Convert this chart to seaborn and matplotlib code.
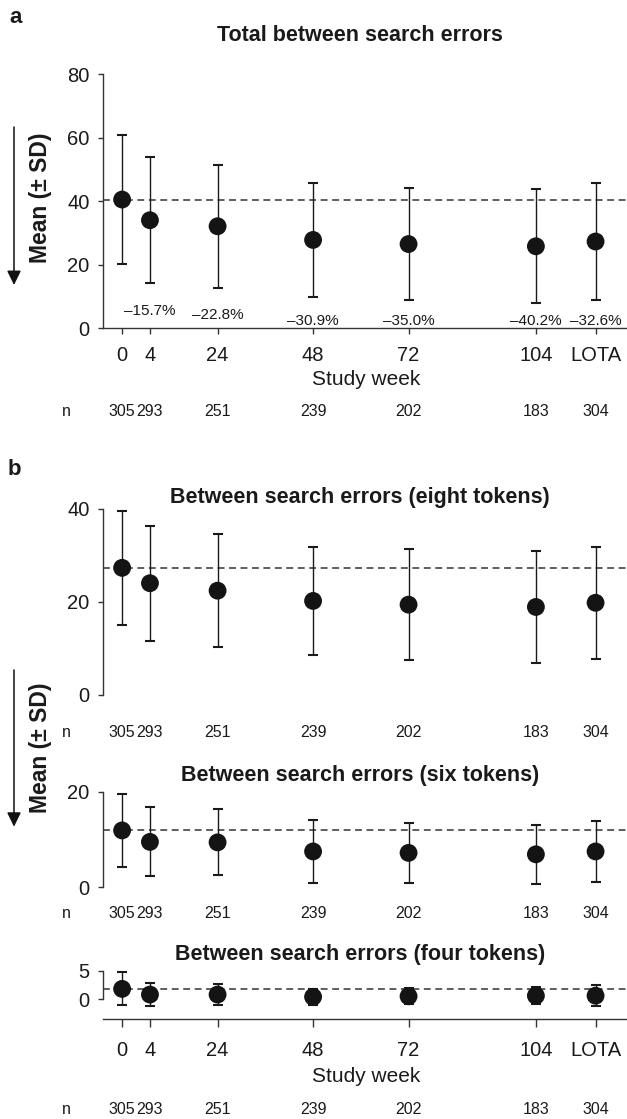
import numpy as np
import pandas as pd
import matplotlib
matplotlib.use("Agg")
import matplotlib.pyplot as plt
import matplotlib.transforms as mtransforms
from matplotlib.patches import FancyArrowPatch
import seaborn as sns

# ---- data -------------------------------------------------------------
week_labels = ["0", "4", "24", "48", "72", "104", "LOTA"]
n_patients = [305, 293, 251, 239, 202, 183, 304]

total_mean = [40.5, 34.0, 32.1, 27.8, 26.5, 25.8, 27.3]
total_sd = [20.3, 19.8, 19.3, 17.8, 17.5, 17.9, 18.3]
total_change_pct = [-15.7, -22.8, -30.9, -35.0, -40.2, -32.6]  # vs. week 0

eight_mean = [27.3, 24.0, 22.4, 20.2, 19.4, 18.9, 19.8]
eight_sd = [12.3, 12.3, 12.1, 11.6, 11.9, 12.1, 12.0]

six_mean = [11.9, 9.5, 9.4, 7.5, 7.2, 6.9, 7.5]
six_sd = [7.7, 7.2, 6.9, 6.6, 6.2, 6.2, 6.4]

four_mean = [1.8, 0.8, 0.8, 0.4, 0.5, 0.6, 0.6]
four_sd = [2.9, 2.0, 1.8, 1.4, 1.4, 1.5, 1.8]

# ---- layout -----------------------------------------------------------
# week 4 is pulled apart from week 0 and LOTA sits after week 104
x_pos = [0, 7, 24, 48, 72, 104, 119]
XMIN, XMAX = -4.8, 126.9

W, H = 627, 1119
sns.set_theme(style="ticks")
plt.rcParams["font.family"] = ["Liberation Sans", "DejaVu Sans"]
plt.rcParams["axes.edgecolor"] = "#333333"
plt.rcParams["axes.linewidth"] = 1.0
plt.rcParams["text.color"] = "#1a1a1a"

fig = plt.figure(figsize=(W / 100, H / 100), dpi=100)
fig.patch.set_facecolor("white")


def fx(px):
    return px / W


def fy(py):
    return 1 - py / H


def axes_px(left, top, right, bottom):
    return fig.add_axes([left / W, 1 - bottom / H, (right - left) / W, (bottom - top) / H])


TICK_FS = 14.5
TITLE_FS = 15.5
N_FS = 11.5


def draw_panel(ax, mean, sd, ylim, yticks, bottom_axis):
    df = pd.DataFrame({"x": x_pos, "mean": mean, "sd": sd})
    ax.set_facecolor("white")
    ax.axhline(mean[0], color="#333333", lw=1.1, ls=(0, (4.5, 3)), zorder=1)
    ax.errorbar(df["x"], df["mean"], yerr=df["sd"], fmt="none", ecolor="#1a1a1a",
                elinewidth=1.0, capsize=3.3, capthick=1.5, zorder=2, clip_on=False)
    sns.scatterplot(data=df, x="x", y="mean", ax=ax, s=165, color="#141414",
                    edgecolor="none", linewidth=0, zorder=3, legend=False, clip_on=False)
    ax.set_xlim(XMIN, XMAX)
    ax.set_ylim(*ylim)
    ax.set_yticks(yticks)
    ax.set_yticklabels([str(t) for t in yticks])
    ax.set_xlabel("")
    ax.set_ylabel("")
    ax.grid(False)
    ax.spines["top"].set_visible(False)
    ax.spines["right"].set_visible(False)
    ax.spines["left"].set_bounds(yticks[0], yticks[-1])
    ax.tick_params(axis="y", direction="out", length=3.6, width=1.0, pad=6.0,
                   labelsize=TICK_FS, colors="#333333", labelcolor="#1a1a1a")
    if bottom_axis:
        ax.set_xticks(x_pos)
        ax.set_xticklabels(week_labels)
        ax.tick_params(axis="x", direction="out", length=4.5, width=1.0, pad=8.0,
                       labelsize=TICK_FS, colors="#333333", labelcolor="#1a1a1a")
    else:
        ax.spines["bottom"].set_visible(False)
        ax.set_xticks([])


def n_row(ax, baseline_px):
    tr = mtransforms.blended_transform_factory(ax.transData, fig.transFigure)
    for x, n in zip(x_pos, n_patients):
        ax.text(x, fy(baseline_px), str(n), transform=tr, ha="center", va="baseline",
                fontsize=N_FS)
    fig.text(fx(66.5), fy(baseline_px), "n", ha="center", va="baseline", fontsize=N_FS)


def title(text, baseline_px):
    fig.text(fx(360), fy(baseline_px), text, ha="center", va="baseline",
             fontsize=TITLE_FS, fontweight="bold")


def mean_label(center_px, arrow_top_px, arrow_tip_px):
    fig.text(fx(41), fy(center_px), "Mean (± SD)", rotation=90, ha="center", va="center",
             fontsize=16.5, fontweight="bold")
    arr = FancyArrowPatch((fx(14), fy(arrow_top_px)), (fx(14), fy(arrow_tip_px)),
                          transform=fig.transFigure,
                          arrowstyle="-|>,head_length=0.86,head_width=0.42",
                          mutation_scale=10, lw=1.1, color="#111111",
                          shrinkA=0, shrinkB=0)
    fig.add_artist(arr)


# ---- panel a: total errors -------------------------------------------
ax_a = axes_px(103, 74, 627, 328.3)
draw_panel(ax_a, total_mean, total_sd, (0, 80), [0, 20, 40, 60, 80], True)
for x, m, s, pct in zip(x_pos[1:], total_mean[1:], total_sd[1:], total_change_pct):
    ax_a.text(x, max(m - s - 10, 1.0), f"\u2013{abs(pct):.1f}%", ha="center",
              va="baseline", fontsize=11)
title("Total between search errors", 40.7)
fig.text(fx(366), fy(385), "Study week", ha="center", va="baseline", fontsize=15)
n_row(ax_a, 416)
mean_label(197.5, 127, 285)
fig.text(fx(9), fy(23.3), "a", ha="left", va="baseline", fontsize=16, fontweight="bold")

# ---- panel b: errors by token count ----------------------------------
fig.text(fx(8), fy(475), "b", ha="left", va="baseline", fontsize=16, fontweight="bold")

ax_b1 = axes_px(103, 508.7, 627, 695)
draw_panel(ax_b1, eight_mean, eight_sd, (0, 40), [0, 20, 40], False)
title("Between search errors (eight tokens)", 502.7)
n_row(ax_b1, 736.7)

ax_b2 = axes_px(103, 791.7, 627, 887.3)
draw_panel(ax_b2, six_mean, six_sd, (0, 20), [0, 20], False)
title("Between search errors (six tokens)", 780.7)
n_row(ax_b2, 918.3)

ax_b3 = axes_px(103, 970.7, 627, 1019)
draw_panel(ax_b3, four_mean, four_sd, (-3.5, 5), [0, 5], True)
ax_b3.tick_params(axis="x", length=5.5, pad=10.0)
title("Between search errors (four tokens)", 960)
fig.text(fx(366), fy(1081.7), "Study week", ha="center", va="baseline", fontsize=15)
n_row(ax_b3, 1114)

mean_label(748, 670, 826.7)

fig.savefig("out.png", dpi=100, facecolor="white")
